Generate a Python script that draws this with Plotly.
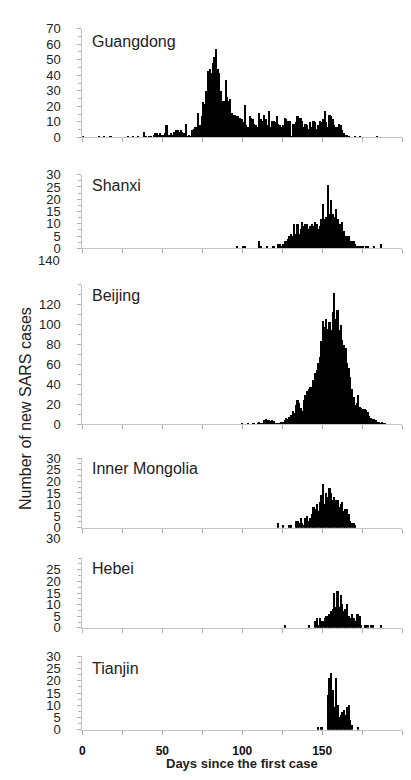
import plotly.graph_objects as go

# ---------------- data (daily new SARS cases) ----------------
provinces = ["Guangdong", "Shanxi", "Beijing", "Inner Mongolia", "Hebei", "Tianjin"]

guangdong_start = 0
guangdong_cases = [
    0, 1, 0, 0, 0, 0, 0, 0, 0, 0,
    0, 1, 0, 0, 1, 0, 0, 0, 1, 0,
    0, 0, 0, 0, 0, 0, 0, 0, 0, 1,
    0, 0, 1, 0, 0, 1, 0, 0, 0, 4,
    1, 0, 1, 1, 0, 2, 3, 3, 2, 3,
    2, 2, 3, 8, 2, 2, 3, 2, 4, 5,
    5, 4, 5, 4, 3, 9, 1, 2, 1, 5,
    6, 7, 7, 16, 8, 14, 23, 22, 30, 43,
    44, 42, 48, 52, 57, 44, 42, 30, 24, 24,
    37, 26, 24, 25, 16, 15, 15, 14, 14, 13,
    12, 10, 21, 8, 7, 14, 13, 12, 9, 8,
    7, 16, 12, 11, 15, 12, 8, 17, 7, 11,
    11, 10, 14, 9, 8, 7, 8, 13, 12, 11,
    11, 1, 9, 9, 10, 14, 13, 13, 11, 7,
    9, 8, 6, 10, 7, 11, 10, 6, 8, 11,
    10, 12, 17, 10, 7, 15, 14, 12, 8, 7,
    7, 9, 8, 5, 3, 2, 2, 1, 0, 0,
    0, 1, 0, 0, 1, 0, 0, 0, 0, 0,
    0, 0, 0, 0, 0, 1,
]

shanxi_start = 97
shanxi_cases = [
    1, 0, 0, 0, 1, 1, 0, 0, 0, 0,
    0, 0, 0, 0, 3, 1, 0, 0, 0, 1,
    0, 0, 0, 1, 0, 0, 2, 2, 1, 2,
    3, 3, 4, 5, 6, 5, 10, 6, 10, 6,
    8, 11, 9, 10, 10, 8, 9, 10, 9, 11,
    10, 8, 9, 12, 18, 12, 13, 26, 14, 20,
    14, 13, 16, 12, 10, 10, 11, 7, 5, 5,
    5, 3, 3, 3, 2, 1, 1, 1, 1, 1,
    0, 1, 1, 0, 0, 0, 1, 0, 0, 0, 2,
]

beijing_start = 100
beijing_cases = [
    1, 0, 0, 0, 1, 0, 0, 1, 2, 0,
    1, 3, 1, 2, 5, 6, 5, 5, 4, 5,
    4, 2, 1, 2, 2, 3, 3, 5, 7, 6,
    8, 10, 14, 12, 20, 25, 22, 17, 14, 25,
    30, 34, 36, 38, 38, 45, 52, 55, 62, 68,
    84, 104, 98, 106, 96, 103, 95, 113, 132, 106,
    115, 95, 100, 85, 80, 77, 62, 57, 48, 36,
    28, 20, 22, 30, 18, 17, 16, 16, 15, 13,
    9, 7, 6, 6, 5, 3, 3, 2, 3, 1, 1,
]

inner_mongolia_start = 123
inner_mongolia_cases = [
    2, 0, 0, 1, 0, 0, 0, 1, 1, 0,
    0, 3, 3, 2, 4, 2, 1, 4, 5, 3,
    4, 6, 9, 8, 10, 7, 11, 14, 19, 10,
    15, 13, 17, 15, 12, 13, 12, 12, 9, 10,
    11, 7, 8, 8, 6, 3, 2, 2, 1,
]

hebei_start = 127
hebei_cases = [
    1, 0, 0, 0, 0, 0, 0, 0, 0, 0,
    0, 0, 0, 0, 0, 1, 0, 0, 0, 3,
    4, 1, 4, 3, 3, 4, 5, 5, 6, 7,
    8, 15, 9, 16, 9, 14, 10, 7, 8, 10,
    5, 4, 6, 4, 3, 6, 6, 5, 1, 0,
    1, 1, 1, 0, 1, 1, 0, 0, 0, 0, 1,
]

tianjin_start = 148
tianjin_cases = [
    1, 0, 1, 0, 0, 0, 14, 21, 23, 16,
    9, 21, 10, 5, 6, 7, 8, 6, 9, 10,
    4, 2, 0, 0, 0, 1,
]

y_max = [70, 30, 140, 30, 30, 30]
y_ticks = [
    [0, 10, 20, 30, 40, 50, 60, 70],
    [0, 5, 10, 15, 20, 25, 30],
    [0, 20, 40, 60, 80, 100, 120],
    [0, 5, 10, 15, 20, 25, 30],
    [0, 5, 10, 15, 20, 25],
    [0, 5, 10, 15, 20, 25, 30],
]
x_ticks = [0, 25, 50, 75, 100, 125, 150, 175, 200]
x_tick_text = ["0", "", "50", "", "100", "", "150", "", "200"]

series = [
    (guangdong_start, guangdong_cases),
    (shanxi_start, shanxi_cases),
    (beijing_start, beijing_cases),
    (inner_mongolia_start, inner_mongolia_cases),
    (hebei_start, hebei_cases),
    (tianjin_start, tianjin_cases),
]

# ---------------- layout geometry (pixels) ----------------
W, H = 411, 780
panel_px = [(22, 133), (171, 246), (283, 425.5), (460, 531), (562, 633), (662, 737)]
label_y_px = [35, 182, 294, 471, 572, 674]
x_left, x_right = 80, 402

def pyf(px):
    return 1 - px / H

font_family = "Liberation Sans, Arial, sans-serif"
axis_col = "#c4c4c4"
tick_col = "#b0b0b0"

fig = go.Figure()
layout = dict(
    width=W, height=H,
    margin=dict(l=0, r=0, t=0, b=0, pad=0),
    plot_bgcolor="white", paper_bgcolor="white",
    showlegend=False, bargap=0,
    font=dict(family=font_family, color="#222"),
)

annotations = []
for i, (name, (start, vals)) in enumerate(zip(provinces, series)):
    n = "" if i == 0 else str(i + 1)
    days = [start + k for k in range(len(vals))]
    fig.add_trace(go.Bar(
        x=days, y=vals, width=1,
        marker=dict(color="black", line=dict(width=0)),
        xaxis="x" + n, yaxis="y" + n,
    ))
    top, bot = panel_px[i]
    bottom_panel = (i == len(provinces) - 1)
    layout["xaxis" + n] = dict(
        domain=[x_left / W, x_right / W], range=[0, 200],
        anchor="y" + n,
        tickmode="array", tickvals=x_ticks,
        ticktext=x_tick_text if bottom_panel else [""] * len(x_ticks),
        showticklabels=bottom_panel,
        ticks="outside", ticklen=4, tickcolor=tick_col, tickwidth=1,
        showline=True, linecolor=axis_col, linewidth=1,
        showgrid=False, zeroline=False,
        tickfont=dict(size=12, color="#111", weight="bold"),
        ticklabelstandoff=6,
    )
    layout["yaxis" + n] = dict(
        domain=[pyf(bot), pyf(top)], range=[0, y_max[i]],
        anchor="x" + n,
        tickmode="array", tickvals=y_ticks[i],
        ticktext=[str(v) for v in y_ticks[i]],
        ticks="outside", ticklen=4, tickcolor=tick_col, tickwidth=1,
        minor=dict(ticks="outside", ticklen=3, tickcolor=tick_col,
                   dtick=(y_ticks[i][1] - y_ticks[i][0]) / 2),
        showline=True, linecolor=axis_col, linewidth=1,
        showgrid=False, zeroline=False,
        tickfont=dict(size=13, color="#222"),
        ticklabelstandoff=14,
    )
    annotations.append(dict(
        text=name, xref="paper", yref="paper",
        x=88 / W, y=pyf(label_y_px[i]), xanchor="left", yanchor="middle",
        showarrow=False, font=dict(size=16, color="#222"),
    ))

# displaced top labels as they appear in the original figure
annotations.append(dict(text="140", xref="paper", yref="paper", x=59 / W, y=pyf(258),
                        xanchor="right", yanchor="middle", showarrow=False,
                        font=dict(size=13, color="#222")))
annotations.append(dict(text="30", xref="paper", yref="paper", x=59 / W, y=pyf(542),
                        xanchor="right", yanchor="middle", showarrow=False,
                        font=dict(size=13, color="#222")))
# axis titles
annotations.append(dict(text="Number of new SARS cases", xref="paper", yref="paper",
                        x=22 / W, y=pyf(409), xanchor="center", yanchor="middle",
                        textangle=-90, showarrow=False,
                        font=dict(size=16, color="#222")))
annotations.append(dict(text="Days since the first case", xref="paper", yref="paper",
                        x=241 / W, y=pyf(771), xanchor="center", yanchor="middle",
                        showarrow=False,
                        font=dict(size=13, color="#222", weight="bold")))

layout["annotations"] = annotations
fig.update_layout(**layout)
fig.write_html(
    "out.html",
    config={"displayModeBar": False},
    post_script="document.body.style.margin='0';document.body.style.overflow='hidden';",
)
